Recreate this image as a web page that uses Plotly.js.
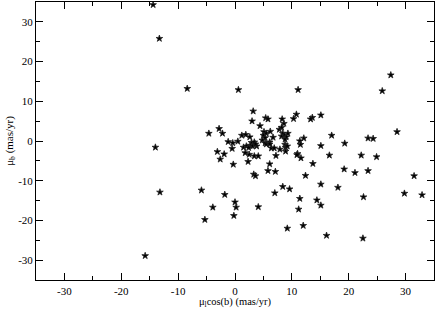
<!DOCTYPE html>
<html>
<head>
<meta charset="utf-8">
<script src="https://cdn.plot.ly/plotly-3.0.1.min.js"></script>
<style>html,body{margin:0;padding:0;background:#fff;}#chart{width:436px;height:309px;}</style>
</head>
<body>
<div id="chart"></div>
<script>
// proper motion in galactic longitude (mu_l cos b), mas/yr
const muL = [
-14.4,-13.3,-8.4,-14.0,-4.6,-2.8,-2.2,-3.1,-1.9,-2.6,-13.2,-15.8,-5.9,-3.9,-5.3,
-1.2,-0.4,0.5,1.2,1.9,2.6,-0.5,-0.3,2.3,1.8,2.5,3.4,4.1,0.6,3.2,
3.0,4.4,5.4,5.8,5.1,5.5,6.2,5.0,5.3,4.8,5.3,6.1,5.5,6.1,6.7,
2.9,3.4,2.7,3.1,3.8,3.6,1.5,2.0,2.4,6.4,6.9,7.9,8.9,7.2,8.3,
8.6,7.8,8.2,8.4,8.2,8.7,9.3,9.0,8.8,8.8,8.9,9.2,10.8,10.3,11.1,
12.1,11.4,11.5,11.0,10.9,11.6,13.6,13.3,15.1,15.1,17.0,19.3,16.6,22.2,23.4,
24.3,24.9,25.9,27.4,28.5,6.1,5.8,7.1,3.3,3.6,13.7,12.4,19.2,21.1,23.4,
15.1,18.1,8.4,9.6,7.0,-1.8,0.0,0.2,-0.2,4.1,11.4,11.2,14.4,15.1,22.6,
29.8,31.5,32.9,9.2,12.0,16.1,22.5
];
// proper motion in galactic latitude (mu_b), mas/yr
const muB = [
34.3,25.8,13.2,-1.6,1.9,3.1,1.9,-2.7,-3.3,-4.6,-12.9,-28.9,-12.4,-16.7,-19.8,
-0.2,-0.5,-0.1,1.4,1.6,1.0,-1.9,-5.9,-5.2,-3.0,-3.4,-3.8,-3.8,12.9,7.5,
5.0,3.8,5.8,5.5,2.3,1.9,2.4,1.4,0.8,0.2,-0.5,-0.3,-0.8,-0.8,0.9,
-0.4,-0.3,-1.1,-1.3,-1.3,-0.8,-1.6,-1.3,-1.7,-1.8,-1.8,-2.1,-2.6,-3.7,5.5,
4.4,2.9,3.4,1.9,1.2,1.4,1.9,1.0,0.4,-0.9,-1.6,-1.3,6.7,5.6,12.9,
0.7,0.0,-0.9,-3.2,-3.5,-4.3,5.9,5.5,6.5,-1.2,1.4,-0.6,-3.6,-3.6,0.7,
0.6,-4.0,12.6,16.6,2.3,-5.8,-7.5,-7.7,-8.4,-8.8,-5.7,-8.7,-7.1,-8.0,-7.5,
-10.9,-11.7,-11.5,-12.1,-13.1,-13.5,-15.4,-16.7,-18.8,-16.6,-14.5,-17.2,-14.9,-16.2,-14.1,
-13.2,-8.8,-13.6,-22.0,-21.3,-23.8,-24.5
];
const xTicks = [-30,-20,-10,0,10,20,30];
const yTicks = [-30,-20,-10,0,10,20,30];
const xTitle = "μ<sub>l</sub>cos(b) (mas/yr)";
const yTitle = "μ<sub>b</sub> (mas/yr)";

const font = {family: "Liberation Serif, Times New Roman, serif", size: 11, color: "#000"};
const axisCommon = {
  showgrid: false, zeroline: false, showline: true, linecolor: "#000", linewidth: 1,
  mirror: "allticks", ticks: "inside", ticklen: 7, tickwidth: 1, tickcolor: "#000",
  tickmode: "array", tickfont: font,
  minor: {ticks: "inside", ticklen: 4, tickwidth: 1, tickcolor: "#000", dtick: 5, showgrid: false}
};

Plotly.newPlot("chart", [{
  type: "scatter", mode: "markers", x: muL, y: muB,
  marker: {symbol: "star", size: 5, color: "#000", line: {width: 0.8, color: "#222"}},
  hoverinfo: "skip"
}], {
  width: 436, height: 309,
  margin: {l: 36, r: 2, t: 2, b: 29},
  paper_bgcolor: "#fff", plot_bgcolor: "#fff",
  showlegend: false,
  font: font,
  xaxis: Object.assign({}, axisCommon, {
    range: [-35, 35], tickvals: xTicks, ticktext: xTicks.map(String),
    ticklabelstandoff: 1,
    title: {text: xTitle, font: {family: font.family, size: 10.5, color: "#000"}, standoff: 3}
  }),
  yaxis: Object.assign({}, axisCommon, {
    range: [-35, 35], tickvals: yTicks, ticktext: yTicks.map(String),
    title: {text: yTitle, font: font, standoff: 2}
  })
}, {displayModeBar: false, staticPlot: true});
</script>
</body>
</html>
